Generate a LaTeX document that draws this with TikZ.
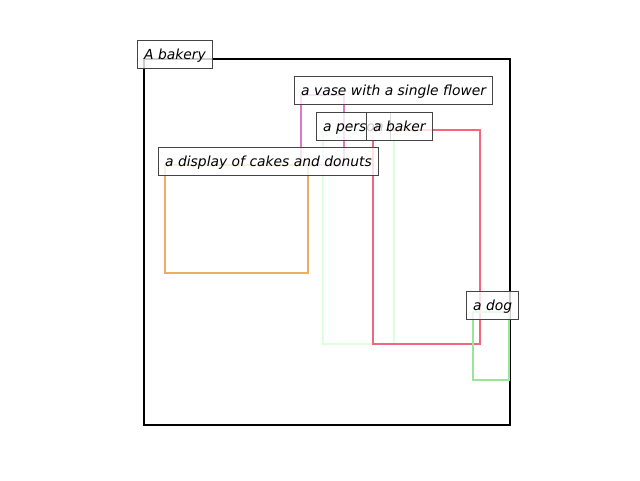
\documentclass[tikz,border=0pt]{standalone}
\usepackage{fontspec}
\setmainfont{DejaVu Sans}
\definecolor{vasecol}{RGB}{227,119,194}
\definecolor{personcol}{RGB}{221,255,221}
\definecolor{bakercol}{RGB}{240,104,124}
\definecolor{displaycol}{RGB}{232,176,96}
\definecolor{dogcol}{RGB}{153,230,153}
\definecolor{labelline}{RGB}{68,68,68}
\begin{document}
\begin{tikzpicture}[
  x=0.75pt, y=-0.75pt,
  region/.style = {line width=1.7pt},
  every node/.style = {shape=rectangle, draw=labelline, line width=0.75pt,
    fill=white, fill opacity=0.8, text opacity=1, anchor=base west,
    text height=11.25pt, text depth=3.75pt, inner xsep=5pt, inner ysep=3pt,
    font=\fontsize{10.4}{12}\selectfont\itshape}
  ]
  \useasboundingbox (0,0) rectangle (640,480);
  % regions
  \draw[region, black] (144,59) rectangle (510,425);
  \draw[region, vasecol] (301,95) rectangle (344,165);
  \draw[region, personcol] (323,130) rectangle (394,344);
  \draw[region, bakercol] (373,130) rectangle (480,344);
  \draw[region, displaycol] (165,165) rectangle (308,273);
  \draw[region, dogcol] (473,312) rectangle (509,380);
  % labels
  \node (bakery) at (137,59) {A bakery};
  \node (vase) at (294,95) {a vase with a single flower};
  \node (person) at (316,131) {a person};
  \node (baker) at (366,131) {a baker};
  \node (display) at (158,166) {a display of cakes and donuts};
  \node (dog) at (466,310) {a dog};
\end{tikzpicture}
\end{document}
